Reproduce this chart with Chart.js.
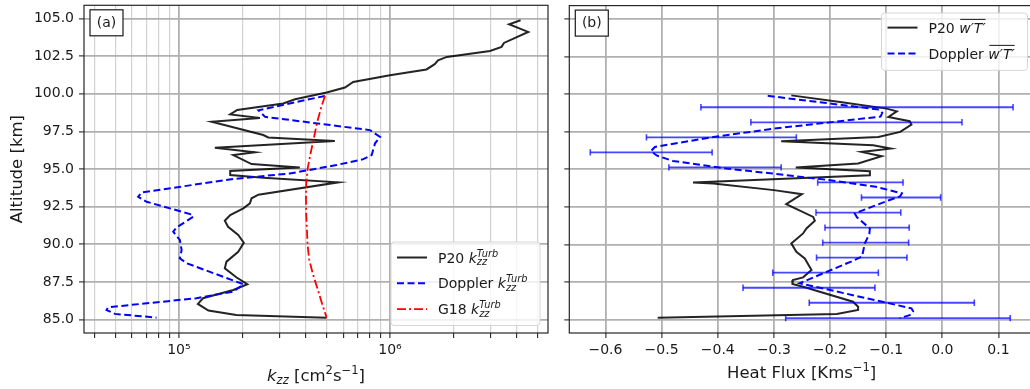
<!DOCTYPE html>
<html><head><meta charset="utf-8">
<script src="https://cdn.jsdelivr.net/npm/chart.js@4.4.1/dist/chart.umd.min.js"></script>
<style>
html,body{margin:0;padding:0;background:#fff;overflow:hidden;width:1030px;height:389px;position:relative}
#ca{position:absolute;left:0;top:0}
#cb{position:absolute;left:560px;top:0}
</style></head><body>
<canvas id="ca" width="560" height="389"></canvas>
<canvas id="cb" width="480" height="389"></canvas>
<script>
// ---------- data ----------
const altTicks = [85, 87.5, 90, 92.5, 95, 97.5, 100, 102.5, 105];
const fluxTicks = [-0.6, -0.5, -0.4, -0.3, -0.2, -0.1, 0.0, 0.1];
const kzzTickLabels = {100000: '10⁵', 1000000: '10⁶'};

const p20KzzAlt = [104.89,104.62,104.11,103.38,103.12,102.85,102.45,102.23,101.97,101.62,101.24,100.79,100.42,100.09,99.64,99.36,98.93,98.63,98.40,98.14,97.26,97.10,96.86,96.41,96.11,95.93,95.33,95.11,94.87,94.60,94.42,94.12,93.30,93.06,92.72,92.39,91.95,91.57,91.17,90.62,90.11,89.51,88.85,88.41,87.81,87.35,86.97,86.42,86.04,85.60,85.31,85.13];
const p20KzzVal = [4.16e6,3.67e6,4.52e6,3.47e6,3.38e6,2.98e6,1.86e6,1.69e6,1.63e6,1.49e6,1.0e6,6.70e5,6.12e5,5.01e5,3.55e5,3.12e5,1.89e5,1.75e5,2.42e5,1.43e5,2.51e5,2.65e5,5.48e5,1.48e5,2.29e5,1.81e5,2.21e5,3.74e5,1.75e5,1.75e5,2.51e5,5.69e5,2.38e5,2.21e5,2.17e5,2.02e5,1.75e5,1.65e5,1.71e5,1.91e5,2.03e5,1.91e5,1.68e5,1.65e5,1.87e5,2.11e5,1.81e5,1.30e5,1.23e5,1.38e5,1.87e5,5.01e5];

const dopKzzAlt = [99.86,98.91,98.47,97.59,97.14,96.71,95.93,95.66,95.27,94.71,94.34,93.45,93.16,92.83,92.01,91.83,91.13,90.84,90.29,89.62,89.07,88.74,87.35,86.86,86.42,85.82,85.64,85.38,85.13];
const dopKzzVal = [4.92e5,2.38e5,2.56e5,8.04e5,8.98e5,8.5e5,8.19e5,7.48e5,5.58e5,3.36e5,1.81e5,6.66e4,6.41e4,7.03e4,1.13e5,1.17e5,9.75e4,9.4e4,1.01e5,1.03e5,1.01e5,1.09e5,2.02e5,1.81e5,1.21e5,4.62e4,4.54e4,4.97e4,7.83e4];

const g18Alt = [99.86,99,98,97,96,95,94,93,92,91,90,89,88,87,86,85.13];
const g18Val = [4.92e5,4.7e5,4.5e5,4.35e5,4.2e5,4.07e5,4.01e5,4.0e5,4.01e5,4.04e5,4.07e5,4.14e5,4.32e5,4.55e5,4.78e5,5.01e5];

const p20FluxAlt = [99.91,99.47,99.03,98.85,98.47,98.19,97.97,97.48,97.14,96.86,96.59,96.37,96.15,95.86,95.38,95.11,94.87,94.60,94.12,94.05,93.61,93.34,92.68,91.83,91.57,91.06,90.73,90.07,89.51,89.07,88.30,87.81,87.63,87.37,87.19,86.19,85.86,85.64,85.38,85.12];
const p20FluxVal = [-0.269,-0.182,-0.099,-0.081,-0.096,-0.058,-0.055,-0.075,-0.114,-0.287,-0.123,-0.092,-0.144,-0.108,-0.150,-0.261,-0.129,-0.129,-0.444,-0.408,-0.300,-0.250,-0.278,-0.230,-0.227,-0.242,-0.248,-0.269,-0.260,-0.245,-0.233,-0.248,-0.266,-0.267,-0.248,-0.159,-0.150,-0.150,-0.188,-0.507];

const dopFluxAlt = [99.88,98.97,98.75,98.50,97.70,97.14,96.48,96.20,95.90,95.55,95.05,94.71,94.27,93.83,93.40,93.20,92.94,92.06,91.80,91.06,90.70,90.07,89.20,88.90,87.42,85.75,85.55,85.30,85.10];
const dopFluxVal = [-0.311,-0.113,-0.107,-0.110,-0.300,-0.408,-0.512,-0.519,-0.508,-0.480,-0.385,-0.302,-0.200,-0.118,-0.072,-0.075,-0.095,-0.156,-0.152,-0.129,-0.130,-0.138,-0.143,-0.160,-0.254,-0.055,-0.052,-0.058,-0.076];

const errAlt = [99.12,98.12,97.12,96.12,95.12,94.12,93.12,92.12,91.12,90.12,89.12,88.12,87.12,86.12,85.1];
const errLo  = [-0.430,-0.341,-0.527,-0.627,-0.487,-0.222,-0.144,-0.225,-0.209,-0.213,-0.224,-0.302,-0.355,-0.237,-0.279];
const errHi  = [0.126,0.035,-0.260,-0.410,-0.287,-0.070,-0.003,-0.074,-0.059,-0.060,-0.063,-0.114,-0.120,0.057,0.121];

// ---------- helpers ----------
const FONT = '"DejaVu Sans", "Liberation Sans", sans-serif';
const zip = (xs, ys) => xs.map((x, i) => ({x: x, y: ys[i]}));
function fnt(size, it) { return (it ? 'italic ' : '') + size + 'px ' + FONT; }
function partWidth(ctx, p, size) {
  if (p.sub !== undefined || p.sup !== undefined) {
    ctx.font = fnt(size * 0.7, p.it);
    return Math.max(p.sub ? ctx.measureText(p.sub).width : 0, p.sup ? ctx.measureText(p.sup).width : 0);
  }
  ctx.font = fnt(size, p.it);
  return ctx.measureText(p.t).width;
}
function drawRich(ctx, parts, x, y, size, align, color) {
  let w = 0; for (const p of parts) w += partWidth(ctx, p, size);
  let cx = align === 'center' ? x - w / 2 : x;
  ctx.fillStyle = color; ctx.textBaseline = 'alphabetic'; ctx.textAlign = 'left';
  for (const p of parts) {
    const pw = partWidth(ctx, p, size);
    if (p.sub !== undefined || p.sup !== undefined) {
      ctx.font = fnt(size * 0.7, p.it);
      if (p.sup) ctx.fillText(p.sup, cx, y - size * 0.42);
      if (p.sub) ctx.fillText(p.sub, cx, y + size * 0.2);
    } else {
      ctx.font = fnt(size, p.it);
      ctx.fillText(p.t, cx, y);
      if (p.over) ctx.fillRect(cx + 1, y - size * 0.98, pw - 1, Math.max(1, size * 0.07));
    }
    cx += pw;
  }
}
function drawLegend(ctx, box, items) {
  ctx.save();
  const r = 3;
  ctx.beginPath();
  ctx.moveTo(box.x + r, box.y);
  ctx.arcTo(box.x + box.w, box.y, box.x + box.w, box.y + box.h, r);
  ctx.arcTo(box.x + box.w, box.y + box.h, box.x, box.y + box.h, r);
  ctx.arcTo(box.x, box.y + box.h, box.x, box.y, r);
  ctx.arcTo(box.x, box.y, box.x + box.w, box.y, r);
  ctx.closePath();
  ctx.fillStyle = 'rgba(255,255,255,0.8)'; ctx.fill();
  ctx.strokeStyle = '#d6d6d6'; ctx.lineWidth = 1; ctx.stroke();
  items.forEach((it, i) => {
    const y = box.y + box.first + i * box.step;
    ctx.beginPath();
    ctx.setLineDash(it.dash || []);
    ctx.strokeStyle = it.color; ctx.lineWidth = it.width;
    ctx.moveTo(box.x + 6, y); ctx.lineTo(box.x + 36, y); ctx.stroke();
    ctx.setLineDash([]);
    drawRich(ctx, it.label, box.x + 47, y + 5, 14, 'left', '#1a1a1a');
  });
  ctx.restore();
}
function panelLabel(ctx, a, txt) {
  ctx.save();
  const x = a.left + 6, y = a.top + 4.5, w = 33, h = 26;
  ctx.fillStyle = '#fff'; ctx.fillRect(x, y, w, h);
  ctx.strokeStyle = '#1a1a1a'; ctx.lineWidth = 1.2; ctx.strokeRect(x, y, w, h);
  ctx.fillStyle = '#1a1a1a'; ctx.font = fnt(14); ctx.textAlign = 'center'; ctx.textBaseline = 'middle';
  ctx.fillText(txt, x + w / 2, y + h / 2 + 0.5);
  ctx.restore();
}
function spines(ctx, a) {
  ctx.save(); ctx.strokeStyle = '#262626'; ctx.lineWidth = 1.2;
  ctx.strokeRect(a.left, a.top, a.right - a.left, a.bottom - a.top);
  ctx.restore();
}

const BLACK = 'rgba(0,0,0,0.86)';
const BLUE = '#0000ff';
const RED = '#ff0000';
const ERRBLUE = 'rgba(0,0,255,0.72)';
const dashBlue = [7, 3.5];
const dashRed = [9, 3, 2, 3];

const yScale = (widthPx, showLabels) => ({
  type: 'linear', position: 'left', min: 84.11, max: 105.88,
  afterBuildTicks: s => { s.ticks = altTicks.map(v => ({value: v})); },
  afterFit: s => { s.width = widthPx; s.paddingTop = 0; s.paddingBottom = 0; },
  ticks: {display: showLabels, padding: 5, color: '#1a1a1a', font: {family: FONT, size: 14},
          callback: v => Number(v).toFixed(1)},
  grid: {color: '#b0b0b0', lineWidth: 1.8, drawTicks: true, tickLength: 5, tickColor: '#262626', tickWidth: 1.1},
  border: {display: false},
  title: {display: showLabels, text: 'Altitude [km]', color: '#1a1a1a', font: {family: FONT, size: 16.5}, padding: {top: 7.4, bottom: 0}}
});

const common = {
  responsive: false, animation: false, devicePixelRatio: 1, events: [],
  plugins: {legend: {display: false}, tooltip: {enabled: false}},
  elements: {point: {radius: 0}, line: {tension: 0}}
};

// ---------- chart (a) ----------
const kMajor = v => Math.abs(Math.log10(v) - Math.round(Math.log10(v))) < 1e-9;
new Chart(document.getElementById('ca'), {
  type: 'scatter',
  data: {datasets: [
    {data: zip(g18Val, g18Alt), showLine: true, borderColor: RED, borderWidth: 1.8, borderDash: dashRed, order: 1},
    {data: zip(dopKzzVal, dopKzzAlt), showLine: true, borderColor: BLUE, borderWidth: 2, borderDash: dashBlue, order: 2},
    {data: zip(p20KzzVal, p20KzzAlt), showLine: true, borderColor: BLACK, borderWidth: 2, order: 3}
  ]},
  options: Object.assign({}, common, {
    layout: {padding: {left: 0, top: 5.3, right: 12, bottom: 0}},
    scales: {
      x: {
        type: 'logarithmic', min: 35500, max: 5.61e6,
        afterBuildTicks: s => {
          const t = [];
          for (let e = 4; e <= 6; e++) for (let m = 1; m <= 9; m++) {
            const v = m * Math.pow(10, e);
            if (v >= s.min && v <= s.max) t.push({value: v, major: m === 1});
          }
          s.ticks = t;
        },
        afterFit: s => { s.height = 56; s.paddingLeft = 0; s.paddingRight = 0; },
        ticks: {autoSkip: false, maxRotation: 0, padding: 4, color: '#1a1a1a', font: {family: FONT, size: 14},
                callback: v => kzzTickLabels[v] || ''},
        grid: {
          color: c => (c.tick && kMajor(c.tick.value)) ? '#b0b0b0' : '#d2d2d2',
          lineWidth: c => (c.tick && kMajor(c.tick.value)) ? 1.8 : 1.2,
          drawTicks: true, tickLength: 5, tickColor: '#262626', tickWidth: 1.1
        },
        border: {display: false}
      },
      y: yScale(84, true)
    }
  }),
  plugins: [{
    id: 'decorA',
    afterDraw(chart) {
      const {ctx, chartArea: a} = chart;
      spines(ctx, a);
      panelLabel(ctx, a, '(a)');
      const lab = name => [{t: name + ' '}, {t: 'k', it: true}, {sub: 'zz', sup: 'Turb', it: true}];
      drawLegend(ctx, {x: a.right - 157, y: a.bottom - 91, w: 149, h: 83.5, first: 15.5, step: 25.8}, [
        {color: BLACK, width: 2, label: lab('P20')},
        {color: BLUE, width: 2, dash: dashBlue, label: lab('Doppler')},
        {color: RED, width: 1.8, dash: dashRed, label: lab('G18')}
      ]);
      drawRich(ctx, [{t: 'k', it: true}, {sub: 'zz', it: true}, {t: ' [cm'}, {sup: '2'}, {t: 's'}, {sup: '−1'}, {t: ']'}],
        (a.left + a.right) / 2, 381, 16.5, 'center', '#1a1a1a');
    }
  }]
});

// ---------- chart (b) ----------
const errData = [];
errAlt.forEach((y, i) => { errData.push({x: errLo[i], y: y}, {x: errHi[i], y: y}, {x: null, y: null}); });
new Chart(document.getElementById('cb'), {
  type: 'scatter',
  data: {datasets: [
    {data: errData, showLine: true, spanGaps: false, borderColor: ERRBLUE, borderWidth: 1.8,
     pointStyle: 'line', rotation: 90, pointRadius: 3.2, pointBorderWidth: 1.6, pointBorderColor: ERRBLUE, order: 1},
    {data: zip(dopFluxVal, dopFluxAlt), showLine: true, borderColor: BLUE, borderWidth: 2, borderDash: dashBlue, order: 2},
    {data: zip(p20FluxVal, p20FluxAlt), showLine: true, borderColor: BLACK, borderWidth: 2, order: 3}
  ]},
  options: Object.assign({}, common, {
    layout: {padding: {left: 0, top: 5.3, right: 6, bottom: 0}},
    scales: {
      x: {
        type: 'linear', min: -0.6644, max: 0.1633,
        afterBuildTicks: s => { s.ticks = fluxTicks.map(v => ({value: v})); },
        afterFit: s => { s.height = 56; s.paddingLeft = 0; s.paddingRight = 0; },
        ticks: {autoSkip: false, maxRotation: 0, padding: 4, color: '#1a1a1a', font: {family: FONT, size: 14},
                callback: v => (Math.round(v * 10) / 10).toFixed(1).replace('-', '−')},
        grid: {color: '#b0b0b0', lineWidth: 1.8, drawTicks: true, tickLength: 5, tickColor: '#262626', tickWidth: 1.1},
        border: {display: false}
      },
      y: yScale(9.3, false)
    }
  }),
  plugins: [{
    id: 'decorB',
    afterDraw(chart) {
      const {ctx, chartArea: a} = chart;
      spines(ctx, a);
      panelLabel(ctx, a, '(b)');
      const lab = name => [{t: name + ' '}, {t: 'w′T′', it: true, over: true}];
      drawLegend(ctx, {x: a.right - 152.5, y: a.top + 7.4, w: 146, h: 57.3, first: 14.6, step: 26}, [
        {color: BLACK, width: 2, label: lab('P20')},
        {color: BLUE, width: 2, dash: dashBlue, label: lab('Doppler')}
      ]);
      drawRich(ctx, [{t: 'Heat Flux [Kms'}, {sup: '−1'}, {t: ']'}], (a.left + a.right) / 2, 378, 16.5, 'center', '#1a1a1a');
    }
  }]
});
</script>
</body></html>
